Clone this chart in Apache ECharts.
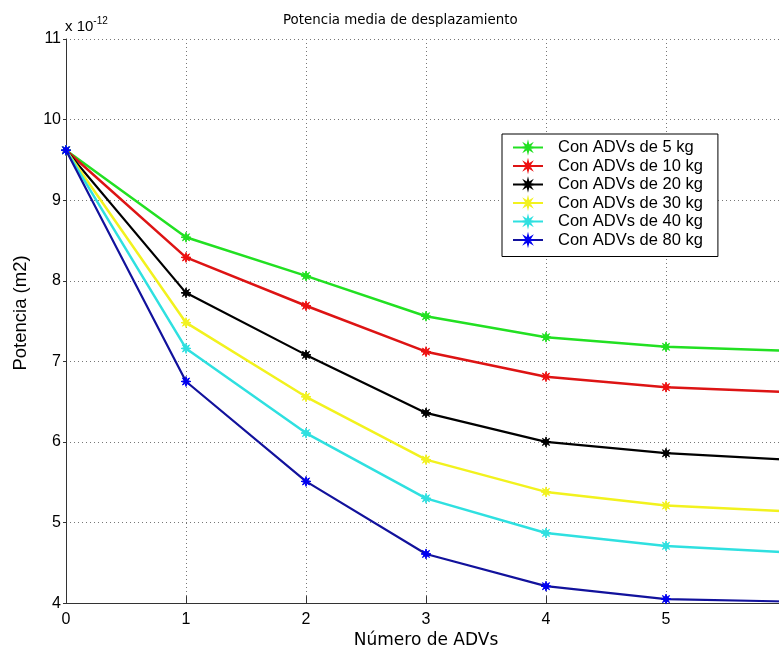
<!DOCTYPE html>
<html>
<head>
<meta charset="utf-8">
<script src="https://cdn.jsdelivr.net/npm/echarts@6/dist/echarts.min.js"></script>
<style>
  html, body { margin: 0; padding: 0; background: #fff; overflow: hidden; width: 779px; height: 654px; }
  #chart { width: 800px; height: 654px; }
</style>
</head>
<body>
<div id="chart"></div>
<script>
// Number of ADVs on the x axis
const nADVs = [0, 1, 2, 3, 4, 5, 6];

// Mean displacement power (units of 1e-12 m2) for each ADV mass
const p5kg  = [9.62, 8.54, 8.06, 7.56, 7.30, 7.18, 7.13];
const p10kg = [9.62, 8.29, 7.69, 7.12, 6.81, 6.68, 6.62];
const p20kg = [9.62, 7.85, 7.08, 6.36, 6.00, 5.86, 5.78];
const p30kg = [9.62, 7.48, 6.56, 5.78, 5.38, 5.21, 5.14];
const p40kg = [9.62, 7.16, 6.11, 5.30, 4.87, 4.71, 4.63];
const p80kg = [9.62, 6.75, 5.51, 4.61, 4.21, 4.05, 4.02];

const seriesNames = [
  'Con ADVs de 5 kg', 'Con ADVs de 10 kg', 'Con ADVs de 20 kg',
  'Con ADVs de 30 kg', 'Con ADVs de 40 kg', 'Con ADVs de 80 kg'
];
const seriesValues = [p5kg, p10kg, p20kg, p30kg, p40kg, p80kg];
const lineColors   = ['#22e022', '#dd1414', '#000000', '#f2f21e', '#2fe0e0', '#12129c'];
const markerColors = ['#22e022', '#ee1010', '#000000', '#f2f21e', '#2fe0e0', '#0000f0'];
const lineWidths   = [2.5, 2.5, 2.2, 2.5, 2.5, 2.2];

// eight-pointed asterisk marker
const asterisk = 'path://M0,-10 L1.53,-3.7 L7.07,-7.07 L3.7,-1.53 L10,0 L3.7,1.53 L7.07,7.07 L1.53,3.7 L0,10 L-1.53,3.7 L-7.07,7.07 L-3.7,1.53 L-10,0 L-3.7,-1.53 L-7.07,-7.07 L-1.53,-3.7 Z';

const chart = echarts.init(document.getElementById('chart'), null, { renderer: 'canvas' });

const axisFont = 'Liberation Sans, Arial, sans-serif';

chart.setOption({
  animation: false,
  backgroundColor: '#ffffff',
  title: {
    text: 'Potencia media de desplazamiento',
    left: 278,
    top: 9,
    textStyle: { fontFamily: 'DejaVu Sans', fontSize: 13.4, fontWeight: 'normal', color: '#000' }
  },
  graphic: [{
    type: 'text',
    left: 65,
    top: 16,
    style: {
      text: '{b|x 10}{s|-12}',
      rich: {
        b: { fontFamily: axisFont, fontSize: 15, fill: '#000', verticalAlign: 'bottom' },
        s: { fontFamily: axisFont, fontSize: 10, fill: '#000', padding: [0, 0, 8, 0], verticalAlign: 'bottom' }
      }
    }
  }, {
    // y-axis title, rotated
    type: 'text',
    x: 20.5,
    y: 313,
    rotation: Math.PI / 2,
    style: {
      text: 'Potencia (m2)',
      fontFamily: axisFont,
      fontSize: 18.5,
      fill: '#000',
      align: 'center',
      verticalAlign: 'middle'
    }
  }],
  legend: {
    orient: 'vertical',
    left: 502,
    top: 134,
    data: seriesNames,
    itemWidth: 30,
    itemHeight: 10,
    itemGap: 1.5,
    padding: [5, 15, 8, 10],
    borderColor: '#000',
    borderWidth: 1,
    backgroundColor: '#fff',
    textStyle: { fontFamily: axisFont, fontSize: 16.5, lineHeight: 14, color: '#000', padding: [0, 0, 0, 10] }
  },
  grid: { left: 66, top: 39, right: 14, bottom: 45, containLabel: false },
  xAxis: {
    type: 'value',
    min: 0, max: 6, interval: 1,
    name: 'Número de ADVs',
    nameLocation: 'middle',
    nameGap: 24,
    nameTextStyle: { fontFamily: 'DejaVu Sans', fontSize: 17, color: '#000' },
    axisLine: { show: true, onZero: false, lineStyle: { color: '#333', width: 1 } },
    axisTick: { show: true, inside: true, length: 7, lineStyle: { color: '#333' } },
    axisLabel: { fontFamily: axisFont, fontSize: 16, color: '#000', margin: 8 },
    splitLine: { show: true, lineStyle: { color: '#777', type: [1, 3], width: 1 } }
  },
  yAxis: {
    type: 'value',
    min: 4, max: 11, interval: 1,
    axisLine: { show: true, onZero: false, lineStyle: { color: '#333', width: 1 } },
    axisTick: { show: true, inside: false, length: 3, lineStyle: { color: '#333' } },
    axisLabel: { fontFamily: axisFont, fontSize: 16, color: '#000', margin: 5 },
    splitLine: { show: true, lineStyle: { color: '#777', type: [1, 3], width: 1 } }
  },
  series: seriesNames.map((name, i) => ({
    name: name,
    type: 'line',
    data: nADVs.map((x, k) => [x, seriesValues[i][k]]),
    symbol: asterisk,
    symbolSize: 10,
    showSymbol: true,
    lineStyle: { color: lineColors[i], width: lineWidths[i] },
    itemStyle: { color: markerColors[i], borderColor: markerColors[i], borderWidth: 1 },
    z: 2 + i
  }))
});
</script>
</body>
</html>
